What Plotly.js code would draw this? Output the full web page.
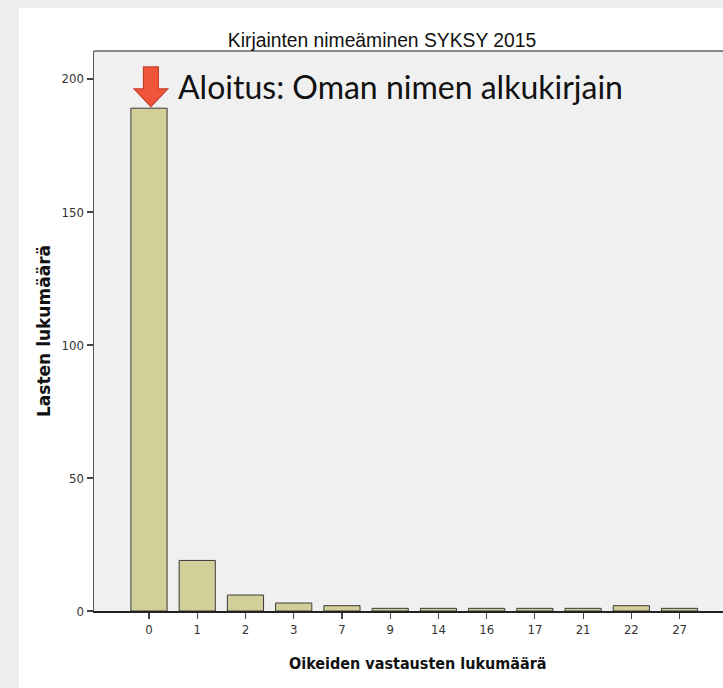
<!DOCTYPE html>
<html>
<head>
<meta charset="utf-8">
<script src="https://cdn.plot.ly/plotly-3.0.1.min.js"></script>
<style>html,body{margin:0;padding:0;background:#eeeeee;}#chart{width:723px;height:688px;}</style>
</head>
<body>
<div id="chart"></div>
<script>
const categories = ["0", "1", "2", "3", "7", "9", "14", "16", "17", "21", "22", "27"];
const counts = [189, 19, 6, 3, 2, 1, 1, 1, 1, 1, 2, 1];
const yTicks = [0, 50, 100, 150, 200];
const chartTitle = "Kirjainten nimeäminen SYKSY 2015";
const xTitle = "Oikeiden vastausten lukumäärä";
const yTitle = "Lasten lukumäärä";
const noteText = "Aloitus: Oman nimen alkukirjain";

const W = 723, H = 688;
const m = {l: 94, r: 0, t: 51, b: 77};
const pw = W - m.l - m.r, ph = H - m.t - m.b;
const px = v => (v - m.l) / pw;
const py = v => (H - m.b - v) / ph;

const tickFont = {size: 13, color: '#333', family: '"Liberation Sans Narrow", "DejaVu Sans Condensed", "Liberation Sans", sans-serif'};

const trace = {
  type: 'bar',
  x: categories,
  y: counts,
  marker: {color: '#d3cf98', line: {color: '#3a3a3a', width: 1}},
  hoverinfo: 'x+y'
};

// arrow (anchored on first category)
const ax0 = 0.04, hw = 0.155, hh = 0.35;
const arrowPath = `M ${ax0-hw} 204.5 L ${ax0+hw} 204.5 L ${ax0+hw} 196.3 L ${ax0+hh} 196.3 L ${ax0} 189.6 L ${ax0-hh} 196.3 L ${ax0-hw} 196.3 Z`;

const layout = {
  width: W, height: H,
  margin: m,
  paper_bgcolor: '#ffffff',
  plot_bgcolor: '#f0f0f0',
  bargap: 0.25,
  showlegend: false,
  font: {family: '"Liberation Sans", Arial, sans-serif', color: '#222'},
  title: {
    text: chartTitle,
    font: {size: 19.3, color: '#111', family: '"Liberation Sans", Arial, sans-serif'},
    xref: 'container', x: 382 / W, xanchor: 'center',
    yref: 'container', y: 1 - 40 / H, yanchor: 'middle'
  },
  xaxis: {
    type: 'category',
    range: [-1.14, 11.9],
    showline: true, linecolor: '#222', linewidth: 1.5,
    ticks: 'outside', ticklen: 6, tickcolor: '#444', tickwidth: 1.2,
    tickfont: tickFont,
    showgrid: false, zeroline: false
  },
  yaxis: {
    range: [0, 210.5],
    tickvals: yTicks,
    showline: true, linecolor: '#555', linewidth: 1.5,
    ticks: 'outside', ticklen: 6, tickcolor: '#444', tickwidth: 1.2,
    tickfont: tickFont,
    showgrid: false, zeroline: false,
    title: {text: yTitle, font: {size: 17, color: '#111', family: '"DejaVu Sans", sans-serif', weight: 'bold'}, standoff: 6}
  },
  shapes: [
    {type: 'rect', xref: 'paper', yref: 'paper', layer: 'below',
     x0: px(-5), x1: px(19), y0: py(H + 5), y1: py(-5),
     fillcolor: '#eeeeee', line: {width: 0}},
    {type: 'rect', xref: 'paper', yref: 'paper', layer: 'below',
     x0: px(-5), x1: px(W + 5), y0: py(8), y1: py(-5),
     fillcolor: '#eeeeee', line: {width: 0}},
    {type: 'line', xref: 'paper', yref: 'paper', x0: 0, x1: 1, y0: 1, y1: 1,
     line: {color: '#888888', width: 2}},
    {type: 'path', xref: 'x', yref: 'y', path: arrowPath,
     fillcolor: '#f0553c', line: {color: '#c8402c', width: 1.2}}
  ],
  annotations: [
    {text: noteText, xref: 'x', yref: 'y', x: 0.55, y: 197, xanchor: 'left', yanchor: 'middle',
     showarrow: false, font: {family: 'Lato, "Open Sans", sans-serif', size: 32, color: '#111'}},
    {text: xTitle, xref: 'paper', yref: 'paper', x: px(418), y: py(664), xanchor: 'center', yanchor: 'middle',
     showarrow: false, font: {size: 16, color: '#111', family: '"DejaVu Sans Condensed", "Liberation Sans Narrow", sans-serif', weight: 'bold'}}
  ]
};

Plotly.newPlot('chart', [trace], layout, {displayModeBar: false, staticPlot: true});
</script>
</body>
</html>
